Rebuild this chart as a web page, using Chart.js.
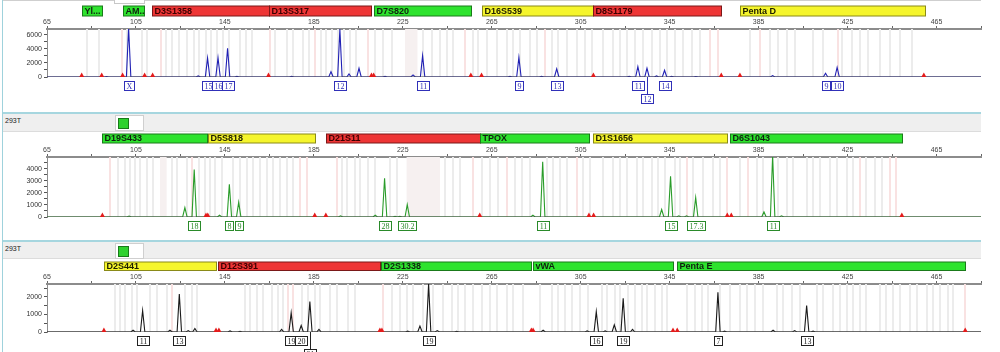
<!DOCTYPE html>
<html>
<head>
<meta charset="utf-8">
<script src="https://cdn.jsdelivr.net/npm/chart.js@4.4.1/dist/chart.umd.min.js"></script>
<style>
    body { margin: 0; background: #fff; width: 1000px; height: 352px; overflow: hidden; position: relative; font-family: Arial, "Liberation Sans", sans-serif; }
    canvas { position: absolute; left: 0; }
    .edge { position: absolute; left: 2px; top: 0; width: 1px; height: 352px; background: #9fd2dc; }
    .topline { position: absolute; left: 3px; top: 0; width: 978px; height: 1px; background: #cfcfcf; }
    .toptab { position: absolute; left: 114px; top: 0; width: 29px; height: 3px; border: 1px solid #c8c8c8; border-top: none; background: #fff; }
    .header { position: absolute; left: 3px; width: 978px; background: #efefef; border-top: 2px solid #a6d6df; border-bottom: 1px solid #dcdcdc; }
    .header span { position: absolute; left: 2px; top: 3px; font-size: 7px; color: #222; }
    .btn { position: absolute; left: 112px; top: 1px; width: 27px; height: 14px; background: #fff; border: 1px solid #cfcfcf; }
    .btn i { position: absolute; left: 2px; top: 2px; width: 9px; height: 9px; background: #2ed12e; border: 1px solid #1a7a1a; }
</style>
</head>
<body>
<div class="topline"></div>
<div class="toptab"></div>
<div class="edge"></div>
<div class="header" style="top:112px;height:17px"><span>293T</span><div class="btn"><i></i></div></div>
<div class="header" style="top:240px;height:16px"><span>293T</span><div class="btn"><i></i></div></div>
<canvas id="blue-panel" width="1000" height="110" style="top:0px"></canvas>
<canvas id="green-panel" width="1000" height="105" style="top:131px"></canvas>
<canvas id="black-panel" width="1000" height="94" style="top:258px"></canvas>
<script>
// Size axis (bp)
const sizeMin = 65;
const sizeMax = 485;

// ---- Blue dye ----
const blueLoci = ['Yl...', 'AM...', 'D3S1358', 'D13S317', 'D7S820', 'D16S539', 'D8S1179', 'Penta D'];
const blueLociStart = [80.7, 99.2, 112.2, 164.8, 212.0, 260.5, 310.3, 376.5];
const blueLociEnd = [89.7, 108.6, 164.8, 210.9, 255.6, 310.3, 368.0, 459.6];
const blueLociColor = ['green', 'green', 'red', 'red', 'green', 'yellow', 'red', 'yellow'];
const bluePeakSizes = [91.8, 101.7, 133.0, 137.2, 141.9, 146.2, 150.4, 175.0, 192.7, 196.7, 200.8, 205.3, 217.0, 229.6, 233.9, 273.2, 277.2, 287.4, 294.2, 326.8, 330.7, 334.8, 339.1, 342.7, 345.9, 356.8, 391.3, 415.1, 420.3];
const bluePeakHeights = [60, 7000, 150, 2700, 2750, 4100, 100, 80, 760, 6800, 430, 1250, 100, 300, 3050, 100, 2800, 100, 1150, 80, 1470, 1250, 150, 960, 100, 60, 200, 530, 1380];
const blueAlleleSizes = [101.7, 137.2, 141.9, 146.2, 196.7, 233.9, 277.2, 294.2, 330.7, 334.8, 342.7, 415.1, 420.3];
const blueAlleleNames = ['X', '15', '16', '17', '12', '11', '9', '13', '11', '12', '14', '9', '10'];
const blueAlleleRows = [0, 0, 0, 0, 0, 0, 0, 0, 0, 1, 0, 0, 0];
const blueMarkers = [80.6, 89.6, 99.0, 108.9, 112.5, 164.6, 210.9, 211.9, 255.6, 260.4, 310.7, 368.2, 376.6, 459.3];
const blueYTicks = [0, 1000, 2000, 3000, 4000, 5000, 6000];
const blueYLabels = ['0', '', '2000', '', '4000', '', '6000'];
const blueBinsGray = [82.8, 88.5, 101.1, 107.6, 110.1, 118.5, 121.1, 124.5, 127.8, 131.1, 133.5, 136.4, 138.7, 141.3, 144.0, 146.7, 151.8, 154.5, 157.2, 167.5, 172.8, 175.7, 180.2, 182.9, 188.2, 190.4, 193.3, 195.7, 198.5, 201.2, 203.9, 212.5, 216.1, 220.1, 234.1, 238.1, 241.7, 244.8, 247.5, 256.5, 258.8, 262.8, 267.3, 271.8, 274.5, 277.7, 282.2, 285.3, 292.1, 294.8, 298.8, 303.3, 306.9, 310.1, 315.0, 319.5, 322.7, 325.8, 329.4, 333.0, 337.1, 340.7, 343.8, 347.4, 351.0, 355.0, 358.6, 381.1, 390.1, 393.7, 397.7, 401.3, 409.4, 413.9, 422.4, 426.9, 430.5, 434.1, 439.5, 444.0, 448.5, 453.9];
const blueBinsPink = [98.6, 116.1, 165.3, 185.6, 209.3, 252.9, 288.9, 363.1, 366.7, 385.6, 420.6];
const blueShades = [[226.0, 231.6]];

// ---- Green dye ----
const greenLoci = ['D19S433', 'D5S818', 'D21S11', 'TPOX', 'D1S1656', 'D6S1043'];
const greenLociStart = [89.6, 137.4, 190.4, 259.6, 310.3, 372.3];
const greenLociEnd = [136.8, 185.4, 259.5, 308.8, 371.0, 449.4];
const greenLociColor = ['green', 'yellow', 'red', 'green', 'yellow', 'green'];
const greenPeakSizes = [101.9, 127.0, 131.2, 142.6, 147.0, 151.2, 197.0, 212.6, 216.8, 221.5, 223.7, 227.0, 283.5, 287.9, 341.4, 345.4, 349.1, 352.6, 356.7, 387.4, 391.3, 395.3];
const greenPeakHeights = [80, 780, 3950, 150, 2720, 1220, 100, 150, 3220, 60, 50, 1030, 150, 4580, 620, 3390, 100, 100, 1610, 420, 5100, 100];
const greenAlleleSizes = [131.2, 147.0, 151.2, 216.8, 227.0, 287.9, 345.4, 356.7, 391.3];
const greenAlleleNames = ['18', '8', '9', '28', '30.2', '11', '15', '17.3', '11'];
const greenAlleleRows = [0, 0, 0, 0, 0, 0, 0, 0, 0];
const greenMarkers = [89.9, 136.5, 137.3, 185.4, 190.4, 259.6, 308.7, 310.8, 370.9, 372.7, 449.4];
const greenYTicks = [0, 500, 1000, 1500, 2000, 2500, 3000, 3500, 4000, 4500];
const greenYLabels = ['0', '', '1000', '', '2000', '', '3000', '', '4000', ''];
const greenBinsGray = [97.1, 100.1, 102.3, 104.6, 106.8, 109.8, 112.8, 121.1, 123.3, 127.8, 133.5, 136.0, 138.3, 140.5, 143.5, 148.8, 151.8, 154.8, 157.8, 160.8, 163.8, 166.7, 169.8, 172.8, 175.7, 197.5, 199.7, 203.5, 205.7, 209.5, 212.5, 219.2, 222.2, 244.0, 247.7, 250.7, 260.4, 264.2, 267.9, 275.4, 278.4, 282.2, 289.7, 292.6, 295.6, 298.7, 306.1, 309.1, 315.1, 319.6, 322.6, 325.6, 330.1, 333.1, 336.9, 339.8, 342.8, 347.3, 349.6, 355.6, 360.1, 364.6, 367.6, 376.6, 384.1, 387.0, 393.8, 397.6, 400.5, 406.6, 409.5, 412.5, 417.0, 420.1, 424.6, 427.5, 433.5, 437.3, 440.3];
const greenBinsPink = [93.3, 130.1, 178.7, 181.8, 195.2, 256.7, 271.7, 303.2, 352.6, 370.6, 380.3, 430.5, 444.0, 447.0];
const greenShades = [[115.8, 118.8], [226.7, 241.7]];

// ---- Black dye ----
const blackLoci = ['D2S441', 'D12S391', 'D2S1338', 'vWA', 'Penta E'];
const blackLociStart = [90.6, 141.9, 215.4, 283.4, 348.1];
const blackLociEnd = [141.0, 214.7, 282.8, 346.3, 477.8];
const blackLociColor = ['yellow', 'red', 'green', 'green', 'green'];
const blackPeakSizes = [103.7, 108.0, 120.3, 124.5, 128.5, 131.5, 147.3, 151.8, 170.5, 174.8, 179.3, 183.2, 187.3, 227.2, 232.7, 236.6, 240.5, 249.2, 288.1, 307.9, 312.0, 316.0, 320.1, 324.1, 328.3, 366.7, 369.7, 391.5, 401.2, 406.6, 409.5];
const blackPeakHeights = [100, 1220, 100, 2160, 80, 200, 60, 40, 150, 1090, 370, 1730, 150, 50, 340, 2750, 80, 40, 100, 60, 1160, 60, 410, 1920, 150, 2260, 50, 100, 80, 1500, 50];
const blackAlleleSizes = [108.0, 124.5, 174.8, 179.3, 183.2, 236.6, 312.0, 324.1, 366.7, 406.6];
const blackAlleleNames = ['11', '13', '19', '20', '21', '19', '16', '19', '7', '13'];
const blackAlleleRows = [0, 0, 0, 0, 1, 0, 0, 0, 0, 0];
const blackMarkers = [90.6, 141.0, 142.3, 214.7, 215.6, 282.8, 283.6, 346.5, 348.4, 477.9];
const blackYTicks = [0, 500, 1000, 1500, 2000, 2500];
const blackYLabels = ['0', '', '1000', '', '2000', ''];
const blackBinsGray = [95.6, 97.8, 100.1, 103.1, 105.3, 111.3, 114.3, 118.8, 127.0, 130.1, 132.3, 154.0, 156.3, 159.3, 162.2, 166.0, 169.0, 171.2, 179.5, 182.5, 185.5, 187.7, 192.2, 195.2, 200.5, 203.5, 220.0, 223.7, 226.7, 229.7, 234.2, 238.7, 243.2, 247.0, 249.9, 252.9, 256.7, 260.4, 264.2, 267.2, 271.7, 274.6, 279.1, 286.6, 291.9, 294.9, 297.9, 300.9, 304.6, 308.4, 314.4, 316.6, 320.4, 322.6, 326.4, 329.4, 332.4, 334.6, 338.4, 341.4, 343.6, 352.6, 356.3, 359.4, 362.3, 367.6, 372.1, 376.6, 379.6, 383.3, 387.0, 393.1, 396.0, 399.8, 403.6, 411.1, 414.0, 418.5, 421.5, 424.6, 427.5, 430.5, 433.5, 439.5, 442.5, 445.5, 448.5, 453.0, 456.1, 460.6, 463.6, 466.5, 470.3, 472.5];
const blackBinsPink = [121.1, 173.5, 175.7, 216.2, 477.7];
const blackShades = [];

const bandColors = {
    green: { fill: '#2ee32e', stroke: '#1a7a1a', text: '#102010' },
    red: { fill: '#ee3535', stroke: '#7a1818', text: '#3a0000' },
    yellow: { fill: '#f5f52c', stroke: '#8a8a18', text: '#202000' }
};

class ElectropherogramHandler {
    constructor() {
        this.charts = {};
    }

    // Build the line trace from the peak lists (narrow triangular peaks)
    buildTrace(sizes, heights) {
        const pts = [{ x: sizeMin, y: 0 }];
        sizes.forEach((s, i) => {
            pts.push({ x: s - 1.0, y: 0 }, { x: s, y: heights[i] }, { x: s + 1.0, y: 0 });
        });
        pts.push({ x: sizeMax, y: 0 });
        return pts;
    }

    createPanel(id, p) {
        const ctx = document.getElementById(id);
        if (!ctx) return;

        // Bin stripes behind the trace
        const binPlugin = {
            id: 'bins',
            beforeDatasetsDraw(chart) {
                const { ctx, chartArea: a, scales: { x } } = chart;
                ctx.save();
                ctx.fillStyle = '#f6f0f0';
                p.shades.forEach(r => {
                    const x0 = x.getPixelForValue(r[0]), x1 = x.getPixelForValue(r[1]);
                    ctx.fillRect(x0, a.top, x1 - x0, a.bottom - a.top);
                });
                ctx.fillStyle = '#ececec';
                p.binsGray.forEach(b => ctx.fillRect(Math.round(x.getPixelForValue(b)) - 1, a.top, 2, a.bottom - a.top));
                ctx.fillStyle = '#f9e2e2';
                p.binsPink.forEach(b => ctx.fillRect(Math.round(x.getPixelForValue(b)) - 1, a.top, 2, a.bottom - a.top));
                ctx.restore();
            }
        };

        // Locus bands, size markers and allele boxes
        const overlayPlugin = {
            id: 'overlay',
            afterDraw(chart) {
                const { ctx, scales: { x, y } } = chart;
                const base = y.getPixelForValue(0);
                ctx.save();

                // locus bands
                p.loci.forEach((name, i) => {
                    const c = bandColors[p.lociColor[i]];
                    const x0 = Math.round(x.getPixelForValue(p.lociStart[i])) + 0.5;
                    const x1 = Math.round(x.getPixelForValue(p.lociEnd[i])) + 0.5;
                    ctx.fillStyle = c.fill;
                    ctx.fillRect(x0, p.bandTop, x1 - x0, p.bandHeight);
                    ctx.strokeStyle = c.stroke;
                    ctx.lineWidth = 1;
                    ctx.strokeRect(x0, p.bandTop, x1 - x0, p.bandHeight);
                    ctx.save();
                    ctx.beginPath();
                    ctx.rect(x0, p.bandTop, x1 - x0, p.bandHeight);
                    ctx.clip();
                    ctx.fillStyle = c.text;
                    ctx.font = 'bold 9px Arial, "Liberation Sans"';
                    ctx.textBaseline = 'middle';
                    ctx.fillText(name, x0 + 2, p.bandTop + p.bandHeight / 2 + 0.5);
                    ctx.restore();
                });

                // red size markers on the baseline
                ctx.fillStyle = '#e41b1b';
                p.markers.forEach(m => {
                    const mx = x.getPixelForValue(m);
                    ctx.beginPath();
                    ctx.moveTo(mx - 2.5, base);
                    ctx.lineTo(mx + 2.5, base);
                    ctx.lineTo(mx, base - 4.5);
                    ctx.closePath();
                    ctx.fill();
                });

                // allele call boxes
                ctx.font = '8px "Liberation Serif", serif';
                ctx.textAlign = 'center';
                ctx.textBaseline = 'middle';
                p.alleleSizes.forEach((s, i) => {
                    const ax = Math.round(x.getPixelForValue(s));
                    const w = Math.ceil(ctx.measureText(p.alleleNames[i]).width) + 4;
                    const top = Math.round(base) + 4 + p.alleleRows[i] * 13;
                    ctx.strokeStyle = p.color;
                    ctx.lineWidth = 1;
                    if (p.alleleRows[i] > 0) {
                        ctx.beginPath();
                        ctx.moveTo(ax + 0.5, base);
                        ctx.lineTo(ax + 0.5, top);
                        ctx.stroke();
                    }
                    ctx.fillStyle = '#fff';
                    ctx.fillRect(ax - w / 2, top, w, 9);
                    ctx.strokeRect(Math.round(ax - w / 2) + 0.5, top + 0.5, w, 9);
                    ctx.fillStyle = p.color;
                    ctx.fillText(p.alleleNames[i], ax + 0.5, top + 5.5);
                });
                ctx.restore();
            }
        };

        this.charts[id] = new Chart(ctx, {
            type: 'line',
            data: {
                datasets: [{
                    data: this.buildTrace(p.peakSizes, p.peakHeights),
                    borderColor: p.lineColor,
                    borderWidth: 1.1,
                    pointRadius: 0,
                    tension: 0,
                    order: 2
                }, {
                    data: [{ x: sizeMin, y: 0 }, { x: sizeMax, y: 0 }],
                    borderColor: '#4a4a4a',
                    borderWidth: 1,
                    pointRadius: 0,
                    order: 1
                }]
            },
            options: {
                responsive: false,
                animation: false,
                devicePixelRatio: 1,
                events: [],
                layout: { padding: { top: p.padTop, bottom: p.padBottom, left: 0, right: 19 } },
                plugins: { legend: { display: false }, tooltip: { enabled: false } },
                scales: {
                    x: {
                        type: 'linear',
                        position: 'top',
                        min: sizeMin,
                        max: sizeMax,
                        afterFit: s => { s.height = 12; },
                        ticks: {
                            stepSize: 20,
                            autoSkip: false,
                            maxRotation: 0,
                            padding: 0,
                            color: '#444',
                            font: { size: 7, family: 'Arial' },
                            callback: v => ((v - sizeMin) % 40 === 0 ? String(v) : '')
                        },
                        grid: { drawOnChartArea: false, drawTicks: true, tickLength: 3, color: '#666' },
                        border: { display: true, color: '#8c8c8c', width: 2 }
                    },
                    y: {
                        min: 0,
                        max: p.yMax,
                        afterFit: s => { s.width = 47; },
                        afterBuildTicks: s => { s.ticks = p.yTicks.map(v => ({ value: v })); },
                        ticks: {
                            autoSkip: false,
                            padding: 2,
                            color: '#333',
                            font: { size: 7, family: 'Arial' },
                            callback: (v, i) => p.yLabels[i]
                        },
                        grid: { drawOnChartArea: false, drawTicks: true, tickLength: 3, color: '#555' },
                        border: { display: true, color: '#8c8c8c', width: 1 }
                    }
                }
            },
            plugins: [binPlugin, overlayPlugin]
        });
    }

    initializeVisualizations() {
        this.createPanel('blue-panel', {
            loci: blueLoci, lociStart: blueLociStart, lociEnd: blueLociEnd, lociColor: blueLociColor,
            peakSizes: bluePeakSizes, peakHeights: bluePeakHeights,
            alleleSizes: blueAlleleSizes, alleleNames: blueAlleleNames, alleleRows: blueAlleleRows,
            markers: blueMarkers, binsGray: blueBinsGray, binsPink: blueBinsPink, shades: blueShades,
            yTicks: blueYTicks, yLabels: blueYLabels,
            lineColor: '#2020b4', color: '#3030b8',
            yMax: 6850,
            padTop: 17, padBottom: 33, bandTop: 6, bandHeight: 10
        });
        this.createPanel('green-panel', {
            loci: greenLoci, lociStart: greenLociStart, lociEnd: greenLociEnd, lociColor: greenLociColor,
            peakSizes: greenPeakSizes, peakHeights: greenPeakHeights,
            alleleSizes: greenAlleleSizes, alleleNames: greenAlleleNames, alleleRows: greenAlleleRows,
            markers: greenMarkers, binsGray: greenBinsGray, binsPink: greenBinsPink, shades: greenShades,
            yTicks: greenYTicks, yLabels: greenYLabels,
            lineColor: '#2a9c2a', color: '#2a8a2a',
            yMax: 4980,
            padTop: 14, padBottom: 19, bandTop: 3, bandHeight: 9
        });
        this.createPanel('black-panel', {
            loci: blackLoci, lociStart: blackLociStart, lociEnd: blackLociEnd, lociColor: blackLociColor,
            peakSizes: blackPeakSizes, peakHeights: blackPeakHeights,
            alleleSizes: blackAlleleSizes, alleleNames: blackAlleleNames, alleleRows: blackAlleleRows,
            markers: blackMarkers, binsGray: blackBinsGray, binsPink: blackBinsPink, shades: blackShades,
            yTicks: blackYTicks, yLabels: blackYLabels,
            lineColor: '#1a1a1a', color: '#222',
            yMax: 2730,
            padTop: 14, padBottom: 20, bandTop: 4, bandHeight: 8.5
        });
    }
}

window.epgHandler = new ElectropherogramHandler();
window.epgHandler.initializeVisualizations();
</script>
</body>
</html>
